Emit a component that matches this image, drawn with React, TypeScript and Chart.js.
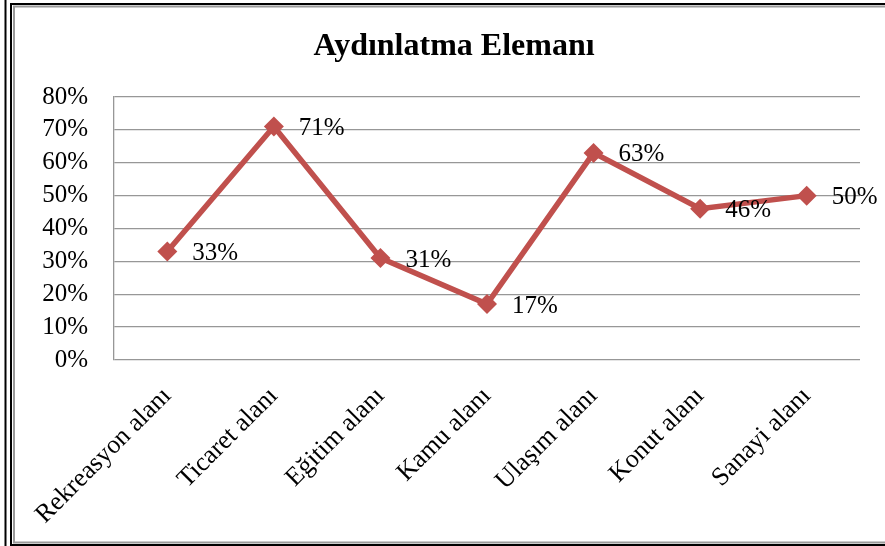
import React, { useEffect, useRef } from "react";
import { Chart, registerables } from "chart.js";

Chart.register(...registerables);

const categories = [
  "Rekreasyon alanı",
  "Ticaret alanı",
  "Eğitim alanı",
  "Kamu alanı",
  "Ulaşım alanı",
  "Konut alanı",
  "Sanayi alanı",
];
const values = [33, 71, 31, 17, 63, 46, 50];
const titleText = "Aydınlatma Elemanı";
const yMax = 80;
const yStep = 10;

const FONT = "'Liberation Serif', 'Times New Roman', serif";

const borderPlugin = {
  id: "frameBorder",
  afterDraw(chart: any) {
    const ctx = chart.ctx as CanvasRenderingContext2D;
    const W = chart.width;
    const H = chart.height;
    ctx.save();
    ctx.lineWidth = 2;
    ctx.strokeStyle = "#000";
    ctx.beginPath();
    ctx.moveTo(5.5, 0);
    ctx.lineTo(5.5, H);
    ctx.stroke();
    ctx.beginPath();
    ctx.moveTo(11, 4);
    ctx.lineTo(11, H);
    ctx.stroke();
    ctx.beginPath();
    ctx.moveTo(10, 4);
    ctx.lineTo(W, 4);
    ctx.stroke();
    ctx.beginPath();
    ctx.moveTo(10, H - 1);
    ctx.lineTo(W, H - 1);
    ctx.stroke();
    ctx.strokeStyle = "#9a9a9a";
    ctx.beginPath();
    ctx.moveTo(14, 6);
    ctx.lineTo(14, H - 3);
    ctx.stroke();
    ctx.beginPath();
    ctx.moveTo(13, 6.5);
    ctx.lineTo(W, 6.5);
    ctx.stroke();
    ctx.beginPath();
    ctx.moveTo(13, H - 3.5);
    ctx.lineTo(W, H - 3.5);
    ctx.stroke();
    // title
    ctx.font = `bold 32px ${FONT}`;
    ctx.fillStyle = "#000";
    ctx.textAlign = "center";
    ctx.textBaseline = "middle";
    ctx.fillText(titleText, 454, 47);
    ctx.restore();
  },
};

const labelPlugin = {
  id: "pointLabels",
  afterDatasetsDraw(chart: any) {
    const ctx = chart.ctx as CanvasRenderingContext2D;
    const meta = chart.getDatasetMeta(0);
    ctx.save();
    ctx.font = `25px ${FONT}`;
    ctx.fillStyle = "#000";
    ctx.textAlign = "left";
    ctx.textBaseline = "middle";
    meta.data.forEach((pt: any, i: number) => {
      ctx.fillText(`${values[i]}%`, pt.x + 25, pt.y + 2);
    });
    ctx.restore();
  },
};

export default function App() {
  const ref = useRef<HTMLCanvasElement>(null);
  useEffect(() => {
    document.body.style.margin = "0";
    const chart = new Chart(ref.current!, {
      type: "line",
      data: {
        labels: categories,
        datasets: [
          {
            data: values,
            borderColor: "#C0504D",
            backgroundColor: "#C0504D",
            borderWidth: 5.5,
            pointStyle: "rectRot",
            pointRadius: 10,
            pointBorderWidth: 0,
            pointBackgroundColor: "#C0504D",
            tension: 0,
          },
        ],
      },
      options: {
        animation: false,
        responsive: false,
        maintainAspectRatio: false,
        layout: { padding: { left: 14, right: 25, top: 97, bottom: 0 } },
        plugins: {
          legend: { display: false },
          tooltip: { enabled: false },
          title: { display: false },
        },
        scales: {
          x: {
            offset: true,
            grid: { display: false },
            border: { display: false },
            ticks: {
              color: "#000",
              font: { family: FONT, size: 26 },
              maxRotation: 45,
              minRotation: 45,
              padding: 13,
              autoSkip: false,
            },
            afterFit(scale: any) {
              scale.height = 186;
            },
          },
          y: {
            min: 0,
            max: yMax,
            grid: { color: "#979797", lineWidth: 1.3, drawTicks: false },
            border: { display: true, color: "#979797", width: 1.3 },
            ticks: {
              stepSize: yStep,
              autoSkip: false,
              count: 9,
              maxTicksLimit: 20,
              color: "#000",
              padding: 26,
              font: { family: FONT, size: 25, lineHeight: 1 },
              callback: (v: any) => `${v}%`,
            },
            afterFit(scale: any) {
              scale.width = 100;
            },
          },
        },
      },
      plugins: [borderPlugin, labelPlugin],
    });
    return () => chart.destroy();
  }, []);
  return (
    <div style={{ position: "absolute", left: 0, top: 0, width: 885, height: 546, background: "#fff" }}>
      <canvas ref={ref} width={885} height={546} style={{ width: 885, height: 546 }} />
    </div>
  );
}
